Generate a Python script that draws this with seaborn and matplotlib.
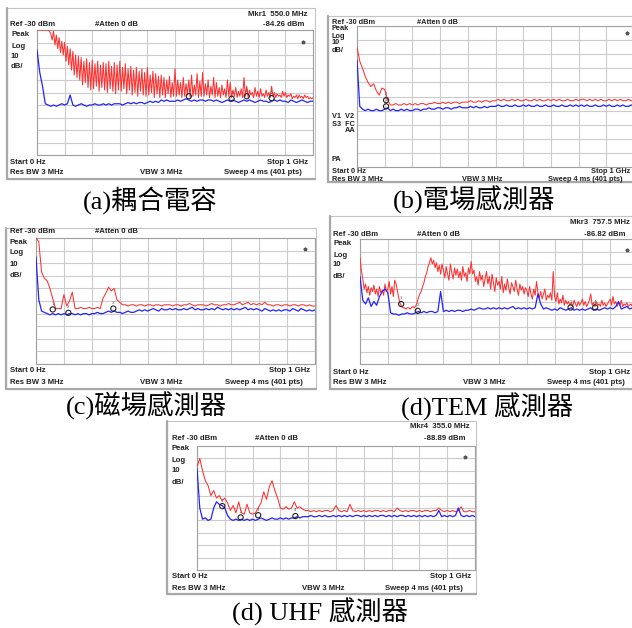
import matplotlib
matplotlib.use("Agg")
import matplotlib.pyplot as plt
import numpy as np
import pandas as pd
import seaborn as sns
from matplotlib.lines import Line2D
from matplotlib.patches import Rectangle

sns.set_theme(style="white")
plt.rcParams["font.family"] = ["Liberation Sans", "DejaVu Sans"]

W, H = 632, 628

# ---------- 频谱数据 (dBm)，0 ~ 1 GHz ----------
# (a) 耦合電容 —— 红色 5 MHz 步进，蓝色 10 MHz 步进
A_RED = [
    -30, -30, -30, -30, -30, -30, -30, -30, -30, -31,
    -33, -38, -31, -42, -34, -45, -36, -48, -39, -50,
    -40, -55, -43, -58, -45, -62, -47, -66, -50, -68,
    -51, -70, -52, -74, -55, -72, -53, -76, -56, -78,
    -54, -77, -57, -75, -55, -79, -58, -76, -56, -78,
    -57, -80, -55, -77, -59, -79, -56, -81, -58, -78,
    -55, -79, -60, -77, -57, -81, -61, -78, -59, -82,
    -62, -80, -60, -83, -63, -79, -61, -82, -64, -83,
    -60, -82, -66, -80, -63, -84, -65, -81, -67, -84,
    -66, -82, -68, -84, -70, -81, -67, -84, -72, -83,
    -61, -83, -70, -82, -72, -84, -68, -83, -73, -82,
    -70, -84, -66, -83, -74, -82, -65, -84, -71, -83,
    -64, -83, -73, -82, -70, -84, -75, -82, -68, -84,
    -72, -83, -76, -84, -74, -82, -77, -84, -70, -83,
    -72, -84, -78, -83, -76, -84, -79, -83, -77, -84,
    -68, -83, -75, -84, -78, -82, -80, -84, -76, -83,
    -79, -84, -77, -83, -81, -84, -78, -83, -80, -84,
    -75, -83, -80, -84, -81, -83, -82, -84, -79, -83,
    -80, -84, -82, -83, -81, -85, -83, -84, -82, -85,
    -82, -84, -83, -85, -82, -84, -83, -85, -84, -85,
    -84,
]
A_BLUE = [
    -46, -64, -75, -89, -90, -91, -90, -91, -90, -89,
    -90, -89, -82, -90, -91, -90, -89, -90, -91, -90,
    -90, -89, -90, -90, -89, -90, -89, -90, -89, -89,
    -89, -90, -89, -88, -89, -88, -89, -88, -88, -89,
    -88, -87, -88, -87, -88, -86, -87, -86, -87, -87,
    -87, -86, -87, -86, -85, -86, -87, -86, -87, -86,
    -86, -87, -86, -86, -87, -86, -87, -88, -87, -86,
    -87, -86, -87, -88, -87, -86, -87, -86, -87, -88,
    -87, -86, -87, -87, -88, -87, -86, -87, -86, -87,
    -87, -88, -86, -87, -88, -87, -86, -87, -88, -87,
    -87,
]
A_MKR_F = [550, 705, 760, 850]
A_MKR_DB = [-83, -85, -83, -84.5]

# (b) 電場感測器
B_RED = [
    -45, -55, -60, -66, -70, -73, -71, -76, -79, -74,
    -75, -82, -86, -86, -85, -86, -86, -85, -86, -85,
    -86, -85, -86, -85, -85, -86, -85, -85, -84, -85,
    -85, -84, -85, -84, -85, -84, -84, -85, -84, -84,
    -84, -83, -84, -84, -83, -84, -83, -83, -84, -83,
    -83, -82, -83, -82, -83, -83, -82, -83, -82, -83,
    -83, -82, -83, -83, -82, -83, -82, -83, -83, -82,
    -83, -82, -83, -82, -83, -83, -82, -83, -83, -82,
    -83, -82, -82, -83, -82, -83, -82, -83, -82, -83,
    -83, -82, -83, -82, -83, -82, -83, -83, -82, -83,
    -83,
]
B_BLUE = [
    -54, -87, -89, -90, -89, -90, -90, -89, -90, -90,
    -89, -88, -90, -89, -90, -90, -89, -90, -89, -90,
    -90, -89, -89, -90, -89, -89, -88, -89, -89, -88,
    -88, -89, -88, -88, -89, -88, -88, -87, -88, -88,
    -88, -87, -88, -87, -88, -88, -87, -88, -87, -87,
    -87, -86, -87, -87, -86, -87, -87, -86, -87, -87,
    -86, -87, -86, -87, -87, -86, -87, -87, -86, -87,
    -87, -86, -87, -87, -86, -87, -87, -86, -87, -86,
    -87, -86, -87, -86, -87, -87, -86, -87, -87, -86,
    -87, -86, -87, -87, -86, -87, -86, -87, -87, -86,
    -87,
]
B_MKR_F = [105, 105]
B_MKR_DB = [-87, -82.6]

# (c) 磁場感測器
C_RED = [
    -30, -33, -57, -62, -64, -70, -78, -86, -86, -86,
    -75, -84, -80, -73, -86, -86, -85, -86, -86, -85,
    -86, -86, -85, -86, -78, -74, -69, -72, -70, -79,
    -81, -83, -83, -84, -83, -83, -84, -83, -83, -84,
    -83, -83, -84, -83, -83, -84, -83, -83, -83, -84,
    -83, -83, -84, -83, -83, -82, -83, -84, -83, -83,
    -83, -84, -83, -82, -83, -83, -84, -83, -83, -82,
    -83, -83, -82, -81, -83, -82, -81, -83, -82, -83,
    -82, -83, -81, -83, -83, -84, -83, -83, -84, -83,
    -83, -84, -83, -83, -84, -83, -83, -84, -83, -84,
    -84,
]
C_BLUE = [
    -45, -79, -88, -89, -90, -91, -90, -91, -90, -91,
    -90, -91, -90, -90, -91, -90, -91, -90, -90, -91,
    -90, -90, -89, -90, -90, -89, -88, -89, -88, -89,
    -89, -90, -89, -88, -89, -89, -88, -87, -88, -87,
    -88, -87, -86, -87, -88, -86, -87, -87, -86, -87,
    -86, -87, -87, -86, -87, -86, -85, -87, -86, -87,
    -87, -86, -87, -86, -87, -85, -86, -87, -86, -87,
    -86, -87, -86, -87, -86, -85, -87, -86, -87, -86,
    -87, -88, -86, -87, -88, -87, -88, -87, -88, -87,
    -87, -88, -86, -87, -88, -86, -87, -88, -87, -88,
    -87,
]
C_MKR_F = [60, 116, 277]
C_MKR_DB = [-86.7, -89.4, -86]

# (d) TEM 感測器 —— 红色 5 MHz 步进
D_RED = [
    -45, -55, -62, -70, -66, -73, -68, -75, -69, -72,
    -67, -74, -70, -76, -68, -73, -71, -75, -66, -72,
    -70, -64, -74, -68, -76, -63, -66, -72, -78, -82,
    -84, -85, -85, -86, -85, -85, -86, -85, -84, -85,
    -84, -81, -77, -74, -72, -68, -65, -60, -57, -52,
    -49, -45, -50, -47, -53, -49, -56, -51, -58, -50,
    -55, -61, -52, -58, -63, -50, -57, -62, -53, -59,
    -54, -61, -56, -63, -52, -60, -57, -64, -53, -58,
    -48, -58, -55, -64, -60, -67, -56, -63, -59, -68,
    -62, -56, -66, -60, -70, -58, -65, -72, -61, -67,
    -64, -70, -60, -73, -66, -71, -62, -69, -74, -65,
    -68, -72, -63, -70, -75, -66, -71, -68, -74, -69,
    -71, -76, -68, -74, -78, -70, -75, -64, -73, -77,
    -72, -78, -74, -70, -79, -75, -77, -73, -79, -56,
    -76, -80, -73, -82, -78, -81, -75, -83, -79, -82,
    -80, -83, -81, -84, -79, -82, -84, -80, -83, -81,
    -78, -83, -80, -84, -82, -79, -74, -83, -81, -84,
    -80, -83, -82, -84, -79, -83, -81, -84, -82, -80,
    -78, -83, -76, -82, -80, -84, -81, -83, -79, -84,
    -82, -83, -81, -84, -83, -82, -84, -83, -82, -84,
    -83,
]
D_BLUE = [
    -60, -79, -82, -77, -84, -80, -83, -76, -72, -70,
    -73, -89, -90, -90, -91, -90, -90, -89, -90, -90,
    -89, -88, -89, -88, -89, -88, -88, -89, -88, -72,
    -88, -87, -88, -87, -88, -87, -87, -88, -87, -87,
    -86, -87, -86, -85, -86, -86, -85, -86, -85, -86,
    -85, -86, -85, -86, -85, -84, -86, -85, -86, -85,
    -86, -85, -86, -85, -74, -82, -86, -85, -86, -87,
    -86, -87, -85, -86, -87, -86, -85, -87, -86, -87,
    -86, -87, -86, -85, -87, -86, -87, -86, -85, -86,
    -85, -86, -84, -80, -86, -85, -84, -86, -85, -84,
    -85,
]
D_MKR_F = [148, 208, 757.5, 846]
D_MKR_DB = [-82, -87.5, -84.8, -84.8]

# (d) UHF 感測器
E_RED = [
    -47, -40, -50, -58, -62, -70, -66, -72, -70, -74,
    -72, -76, -82, -78, -84, -75, -84, -85, -77, -84,
    -85, -84, -80, -76, -67, -73, -63, -58, -66, -72,
    -80, -81, -79, -81, -80, -75, -80, -79, -81, -82,
    -82, -83, -82, -83, -82, -83, -82, -82, -83, -82,
    -78, -82, -83, -82, -83, -77, -82, -83, -82, -83,
    -82, -83, -82, -83, -82, -82, -83, -82, -83, -82,
    -82, -83, -80, -82, -83, -82, -83, -82, -82, -83,
    -82, -83, -82, -82, -83, -82, -82, -80, -82, -83,
    -82, -83, -82, -83, -82, -79, -83, -83, -82, -83,
    -83,
]
E_BLUE = [
    -48, -80, -89, -88, -90, -89, -80, -75, -77, -78,
    -80, -86, -89, -90, -89, -90, -89, -90, -89, -90,
    -89, -90, -89, -88, -89, -90, -89, -88, -89, -89,
    -88, -89, -88, -89, -88, -88, -87, -88, -87, -87,
    -87, -86, -87, -87, -86, -87, -86, -87, -87, -86,
    -87, -86, -87, -86, -87, -86, -87, -86, -86, -87,
    -86, -87, -86, -87, -86, -87, -86, -86, -87, -86,
    -87, -86, -87, -86, -86, -87, -86, -87, -86, -87,
    -86, -87, -86, -87, -86, -87, -86, -82, -87, -86,
    -87, -86, -87, -86, -80, -86, -87, -86, -87, -86,
    -87,
]
E_MKR_F = [91, 157, 220, 354]
E_MKR_DB = [-78.5, -87.6, -85.8, -86.5]

CAPTIONS = ["(a)耦合電容", "(b)電場感測器", "(c)磁場感測器", "(d)TEM 感測器", "(d) UHF 感測器"]

RED = "#ff3030"
BLUE = "#2323ff"
GRID = "#cccccc"
TXT = "#222222"


def fx(x):
    return x / W


def fy(y):
    return 1 - y / H


def add_text(fig, x, y, s, ha="left", size=5.6):
    fig.text(fx(x), fy(y), s, ha=ha, va="center", fontsize=size,
             fontweight="bold", color=TXT, family=["Liberation Sans", "DejaVu Sans"])


def draw_frame(fig, x0, y0, x1, y1):
    fig.patches.append(Rectangle((fx(x0), fy(y1)), fx(x1 - x0), (y1 - y0) / H,
                                 transform=fig.transFigure, fill=False,
                                 edgecolor="#c4c4c4", lw=0.8))
    fig.lines.append(Line2D([fx(x0), fx(x0)], [fy(y0), fy(y1)], transform=fig.transFigure,
                            color="#a8a8a8", lw=1.6))
    fig.lines.append(Line2D([fx(x0), fx(x1)], [fy(y1), fy(y1)], transform=fig.transFigure,
                            color="#a8a8a8", lw=1.6))


def draw_trace(fig, grid_box, red, blue, mkr_f, mkr_db, star):
    x0, y0, x1, y1 = grid_box
    ax = fig.add_axes([fx(x0), fy(y1), (x1 - x0) / W, (y1 - y0) / H])
    df_r = pd.DataFrame({"freq": np.linspace(0, 1000, len(red)), "dbm": red})
    df_b = pd.DataFrame({"freq": np.linspace(0, 1000, len(blue)), "dbm": blue})
    sns.lineplot(data=df_r, x="freq", y="dbm", ax=ax, color=RED, lw=0.75,
                 estimator=None, sort=False, zorder=3)
    sns.lineplot(data=df_b, x="freq", y="dbm", ax=ax, color=BLUE, lw=0.9,
                 estimator=None, sort=False, zorder=4)
    ax.scatter(mkr_f, mkr_db, s=14, facecolors="none", edgecolors="#222222",
               linewidths=0.8, zorder=5)
    for i, (f, d) in enumerate(zip(mkr_f, mkr_db), start=1):
        ax.text(f, d + 4.5, str(i), fontsize=3.2, color="#555555", ha="center",
                va="center", zorder=5)
    ax.plot([star[0]], [star[1]], marker="*", ms=2.6, color="#555555", zorder=5)
    ax.set_xlim(0, 1000)
    ax.set_ylim(-130, -30)
    ax.set_xticks(np.arange(0, 1001, 100))
    ax.set_yticks(np.arange(-130, -29, 10))
    ax.grid(True, color=GRID, lw=0.8)
    ax.tick_params(length=0, labelbottom=False, labelleft=False)
    ax.set_xlabel("")
    ax.set_ylabel("")
    for sp in ax.spines.values():
        sp.set_color("#a0a0a0")
        sp.set_linewidth(0.8)
    return ax


fig = plt.figure(figsize=(W / 100, H / 100), dpi=100)
fig.patch.set_facecolor("white")

panels = [
    dict(frame=(7, 8, 315, 179), grid=(37, 30, 313, 155), red=A_RED, blue=A_BLUE,
         mf=A_MKR_F, md=A_MKR_DB, star=(964, -39.5), cap=(150, 200)),
    dict(frame=(328, 16, 634, 182), grid=(357, 26, 634, 167), red=B_RED, blue=B_BLUE,
         mf=B_MKR_F, md=B_MKR_DB, star=(975, -35), cap=(474, 200)),
    dict(frame=(6, 228, 316, 389), grid=(36, 238, 315, 364), red=C_RED, blue=C_BLUE,
         mf=C_MKR_F, md=C_MKR_DB, star=(965, -39), cap=(146, 406)),
    dict(frame=(330, 216, 634, 389), grid=(360, 239, 638, 364), red=D_RED, blue=D_BLUE,
         mf=D_MKR_F, md=D_MKR_DB, star=(962, -39), cap=(487, 407)),
    dict(frame=(167, 421, 476, 594), grid=(197, 446, 475, 570), red=E_RED, blue=E_BLUE,
         mf=E_MKR_F, md=E_MKR_DB, star=(963, -38.5), cap=(320, 612)),
]

for p, cap in zip(panels, CAPTIONS):
    draw_frame(fig, *p["frame"])
    draw_trace(fig, p["grid"], p["red"], p["blue"], p["mf"], p["md"], p["star"])
    fig.text(fx(p["cap"][0]), fy(p["cap"][1]), cap, ha="center", va="center",
             fontsize=19, color="black", family=["Liberation Serif", "Noto Sans CJK TC"])

# ---------- 仪器界面文字 ----------
# (a)
add_text(fig, 307, 14, "Mkr1  550.0 MHz", "right")
add_text(fig, 10, 24, "Ref -30 dBm")
add_text(fig, 95, 24, "#Atten 0 dB")
add_text(fig, 304, 24, "-84.26 dBm", "right")
for yy, s in zip([34, 46, 57, 67], ["Peak", "Log", "10", "dB/"]):
    add_text(fig, 11, yy, s)
add_text(fig, 10, 163, "Start 0 Hz")
add_text(fig, 308, 163, "Stop 1 GHz", "right")
add_text(fig, 10, 173, "Res BW 3 MHz")
add_text(fig, 140, 173, "VBW 3 MHz")
add_text(fig, 302, 173, "Sweep 4 ms (401 pts)", "right")
# (b)
add_text(fig, 332, 22, "Ref -30 dBm", size=5.3)
add_text(fig, 417, 22, "#Atten 0 dB", size=5.3)
for yy, s in zip([29, 36, 43, 51], ["Peak", "Log", "10", "dB/"]):
    add_text(fig, 332, yy, s, size=5.3)
add_text(fig, 332, 117, "V1  V2", size=5.3)
add_text(fig, 332, 124, "S3  FC", size=5.3)
add_text(fig, 345, 131, "AA", size=5.3)
add_text(fig, 332, 160, "PA", size=5.3)
add_text(fig, 332, 172, "Start 0 Hz", size=5.3)
add_text(fig, 630, 172, "Stop 1 GHz", "right", size=5.3)
add_text(fig, 332, 180, "Res BW 3 MHz", size=5.3)
add_text(fig, 462, 180, "VBW 3 MHz", size=5.3)
add_text(fig, 623, 180, "Sweep 4 ms (401 pts)", "right", size=5.3)
# (c)
add_text(fig, 10, 232, "Ref -30 dBm")
add_text(fig, 95, 232, "#Atten 0 dB")
for yy, s in zip([242, 253, 264, 275], ["Peak", "Log", "10", "dB/"]):
    add_text(fig, 10, yy, s)
add_text(fig, 10, 371, "Start 0 Hz")
add_text(fig, 310, 371, "Stop 1 GHz", "right")
add_text(fig, 10, 383, "Res BW 3 MHz")
add_text(fig, 140, 383, "VBW 3 MHz")
add_text(fig, 303, 383, "Sweep 4 ms (401 pts)", "right")
# (d) TEM
add_text(fig, 630, 223, "Mkr3  757.5 MHz", "right")
add_text(fig, 333, 234, "Ref -30 dBm")
add_text(fig, 417, 234, "#Atten 0 dB")
add_text(fig, 626, 234, "-86.82 dBm", "right")
for yy, s in zip([243, 255, 265, 276], ["Peak", "Log", "10", "dB/"]):
    add_text(fig, 333, yy, s)
add_text(fig, 333, 372, "Start 0 Hz")
add_text(fig, 630, 372, "Stop 1 GHz", "right")
add_text(fig, 333, 383, "Res BW 3 MHz")
add_text(fig, 463, 383, "VBW 3 MHz")
add_text(fig, 625, 383, "Sweep 4 ms (401 pts)", "right")
# (d) UHF
add_text(fig, 470, 427, "Mkr4  355.0 MHz", "right")
add_text(fig, 172, 438, "Ref -30 dBm")
add_text(fig, 255, 438, "#Atten 0 dB")
add_text(fig, 466, 438, "-88.89 dBm", "right")
for yy, s in zip([448, 460, 470, 482], ["Peak", "Log", "10", "dB/"]):
    add_text(fig, 172, yy, s)
add_text(fig, 172, 577, "Start 0 Hz")
add_text(fig, 471, 577, "Stop 1 GHz", "right")
add_text(fig, 172, 588, "Res BW 3 MHz")
add_text(fig, 302, 588, "VBW 3 MHz")
add_text(fig, 463, 588, "Sweep 4 ms (401 pts)", "right")

fig.savefig("out.png", dpi=100)
